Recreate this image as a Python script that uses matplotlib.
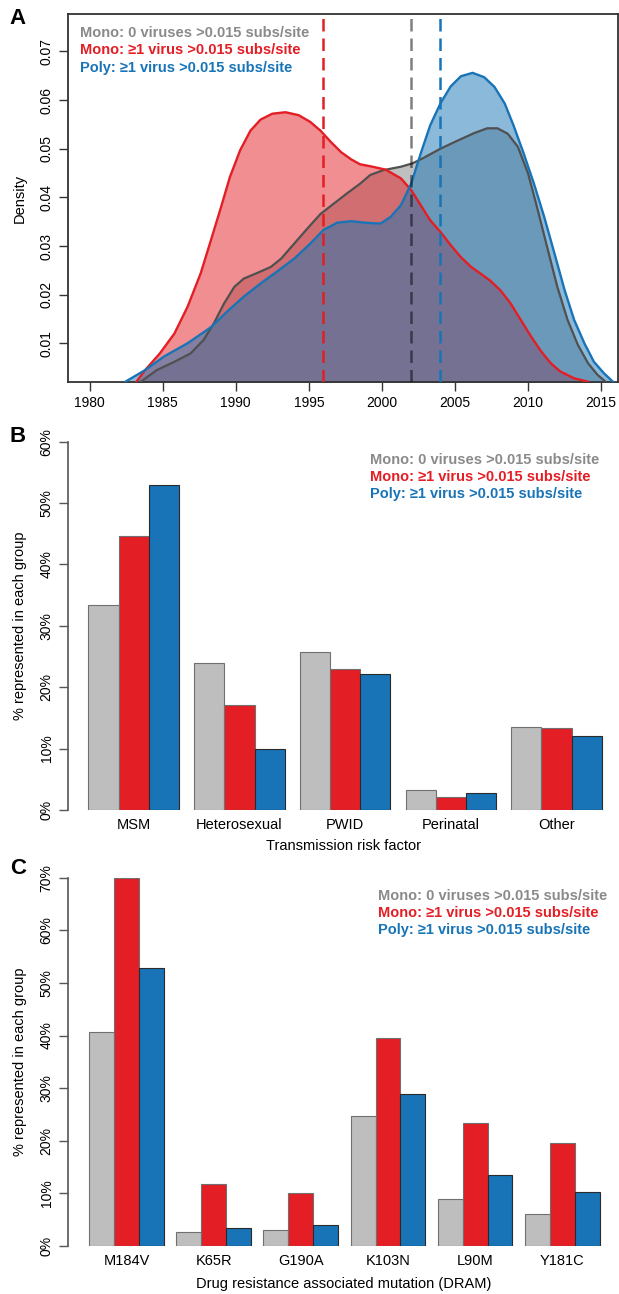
import numpy as np
import matplotlib
matplotlib.use('Agg')
import matplotlib.pyplot as plt

plt.rcParams['font.family'] = ['Liberation Sans', 'DejaVu Sans']

# ---- panel A: density of estimated infection dates ----
grey_year = [1983.5, 1984.6, 1985.8, 1986.9, 1987.8, 1988.5, 1989.2, 1989.9, 1990.55, 1991.5,
             1992.4, 1993.1, 1994.0, 1994.9, 1995.8, 1996.7, 1997.6, 1998.5, 1999.2, 2000.1,
             2001.3, 2002.1, 2002.9, 2004.0, 2005.2, 2006.3, 2007.2, 2007.9, 2008.6, 2009.3,
             2010.0, 2010.6, 2011.3, 2012.0, 2012.7, 2013.4, 2014.1, 2014.75, 2015.3]
grey_dens = [0.0021, 0.0045, 0.0062, 0.0079, 0.0107, 0.0141, 0.0182, 0.0216, 0.0233, 0.0245,
             0.0257, 0.0274, 0.0305, 0.0336, 0.0366, 0.0387, 0.0408, 0.0428, 0.0446, 0.0456,
             0.0463, 0.0470, 0.0482, 0.0500, 0.0517, 0.0532, 0.0542, 0.0542, 0.0531, 0.0504,
             0.0449, 0.0381, 0.0298, 0.0216, 0.0148, 0.0097, 0.0059, 0.0035, 0.0021]

red_year = [1983.2, 1983.8, 1984.8, 1985.8, 1986.7, 1987.6, 1988.3, 1989.0, 1989.6, 1990.3,
            1991.0, 1991.7, 1992.5, 1993.4, 1994.3, 1995.1, 1995.8, 1996.5, 1997.2, 1997.9,
            1998.5, 1999.2, 2000.25, 2001.3, 2002.0, 2002.65, 2003.3, 2004.0, 2004.7, 2005.4,
            2006.1, 2006.8, 2007.4, 2008.1, 2008.8, 2009.5, 2010.2, 2010.9, 2011.55, 2012.2,
            2013.15, 2014.1]
red_dens = [0.0021, 0.0045, 0.0079, 0.0120, 0.0175, 0.0244, 0.0312, 0.0381, 0.0442, 0.0497,
            0.0537, 0.0560, 0.0572, 0.0575, 0.0569, 0.0555, 0.0537, 0.0514, 0.0493, 0.0478,
            0.0468, 0.0464, 0.0457, 0.0439, 0.0415, 0.0384, 0.0353, 0.0329, 0.0302, 0.0277,
            0.0257, 0.0242, 0.0229, 0.0209, 0.0182, 0.0148, 0.0114, 0.0083, 0.0059, 0.0042,
            0.0028, 0.0021]

blue_year = [1982.45, 1983.8, 1985.1, 1986.7, 1988.3, 1989.4, 1990.55, 1991.7, 1992.8, 1994.0,
             1995.1, 1996.0, 1996.95, 1997.9, 1998.8, 1999.9, 2000.6, 2001.3, 2002.0, 2002.65,
             2003.3, 2004.0, 2004.7, 2005.4, 2006.2, 2007.0, 2007.7, 2008.4, 2009.0, 2009.7,
             2010.4, 2011.1, 2011.8, 2012.5, 2013.15, 2013.85, 2014.5, 2015.2, 2015.8]
blue_dens = [0.0021, 0.0045, 0.0073, 0.0100, 0.0133, 0.0165, 0.0196, 0.0223, 0.0247, 0.0274,
             0.0305, 0.0333, 0.0348, 0.0351, 0.0348, 0.0346, 0.0360, 0.0384, 0.0428, 0.0490,
             0.0548, 0.0593, 0.0628, 0.0649, 0.0656, 0.0647, 0.0627, 0.0593, 0.0548, 0.0490,
             0.0428, 0.0360, 0.0285, 0.0209, 0.0148, 0.0100, 0.0062, 0.0038, 0.0021]

medians = [2002, 1996, 2004]   # grey, red, blue

# ---- panel B: transmission risk factor ----
risk_cats = ['MSM', 'Heterosexual', 'PWID', 'Perinatal', 'Other']
risk_grey = [33.4, 23.9, 25.8, 3.3, 13.5]
risk_red = [44.6, 17.1, 22.9, 2.1, 13.3]
risk_blue = [52.9, 10.0, 22.1, 2.7, 12.1]

# ---- panel C: drug resistance mutations ----
dram_cats = ['M184V', 'K65R', 'G190A', 'K103N', 'L90M', 'Y181C']
dram_grey = [40.6, 2.7, 3.0, 24.8, 9.0, 6.1]
dram_red = [70.0, 11.7, 10.1, 39.6, 23.3, 19.6]
dram_blue = [52.9, 3.5, 4.0, 28.9, 13.4, 10.2]

legend_labels = ['Mono: 0 viruses >0.015 subs/site',
                 'Mono: \u22651 virus >0.015 subs/site',
                 'Poly: \u22651 virus >0.015 subs/site']

GREY = '#808080'
RED = '#E31E25'
BLUE = '#1874B6'
BAR_GREY = '#BEBEBE'
legend_cols = ['#8A8A8A', RED, BLUE]

W, H = 619, 1294
fig = plt.figure(figsize=(W / 100, H / 100), dpi=100)


def rect(l, t, r, b):
    return [l / W, 1 - b / H, (r - l) / W, (b - t) / H]


def ftext(x, y, s, **kw):
    fig.text(x / W, 1 - y / H, s, **kw)


# ================= A =================
ax = fig.add_axes(rect(68.3, 14, 618, 381.7))
for yr, d, c in [(grey_year, grey_dens, GREY), (red_year, red_dens, RED),
                 (blue_year, blue_dens, BLUE)]:
    ax.fill_between(yr, 0, d, color=c, alpha=0.5, lw=0, zorder=2)
ax.plot(grey_year, grey_dens, color='#505050', lw=1.6, zorder=4)
ax.plot(red_year, red_dens, color=RED, lw=1.7, zorder=4)
ax.plot(blue_year, blue_dens, color=BLUE, lw=1.7, zorder=4)
ax.axvline(medians[0], color='black', alpha=0.5, lw=1.8, dashes=(5, 2.8), zorder=5)
ax.axvline(medians[1], color=RED, lw=1.8, dashes=(5, 2.8), zorder=5)
ax.axvline(medians[2], color=BLUE, lw=1.8, dashes=(5, 2.8), zorder=5)
ax.set_xlim(1978.54, 2016.15)
ax.set_ylim(0.0021, 0.0777)
ax.set_xticks(np.arange(1980, 2016, 5))
ax.set_yticks([0.01, 0.02, 0.03, 0.04, 0.05, 0.06, 0.07])
ax.set_yticklabels(['0.01', '0.02', '0.03', '0.04', '0.05', '0.06', '0.07'],
                   rotation=90, va='center')
ax.tick_params(length=6.5, width=1, color='#333333', labelsize=10, pad=4)
for s in ax.spines.values():
    s.set_color('#333333')
    s.set_linewidth(1.3)
ftext(20, 198, 'Density', rotation=90, ha='center', va='center', fontsize=10.5)
for i, (lab, c) in enumerate(zip(legend_labels, legend_cols)):
    ftext(80, 33 + 17.5 * i, lab, color=c, fontsize=10.5, fontweight='bold',
          ha='left', va='center')
ftext(17, 19, 'A', fontsize=16, fontweight='bold', ha='center', va='center')


def bar_panel(r, cats, g, rr, b, ymax, xlim, label, xlab_y, leg_x, leg_y):
    ax = fig.add_axes(rect(*r))
    n = len(cats)
    base = np.arange(n) * 3.5
    ax.bar(base, g, width=1, align='edge', color=BAR_GREY, edgecolor='#707070', lw=0.8)
    ax.bar(base + 1, rr, width=1, align='edge', color=RED, edgecolor='#707070', lw=0.8)
    ax.bar(base + 2, b, width=1, align='edge', color=BLUE, edgecolor='#2a2a2a', lw=0.8)
    ax.set_xlim(*xlim)
    ax.set_ylim(0, ymax)
    ax.set_xticks(base + 1.5)
    ax.set_xticklabels(cats, fontsize=10.5)
    ax.tick_params(axis='x', length=0, pad=6)
    ticks = np.arange(0, ymax + 1, 10)
    ax.set_yticks(ticks)
    ax.set_yticklabels(['%d%%' % t for t in ticks], rotation=90, va='center')
    ax.tick_params(axis='y', length=6.5, width=1, color='#555555', labelsize=10, pad=4)
    for k in ['top', 'right', 'bottom']:
        ax.spines[k].set_visible(False)
    ax.spines['left'].set_color('#555555')
    ax.spines['left'].set_linewidth(1.2)
    ftext(20, (r[1] + r[3]) / 2, '% represented in each group', rotation=90,
          ha='center', va='center', fontsize=10.5)
    ftext(344, xlab_y, label, ha='center', va='center', fontsize=10.5)
    for i, (lab, c) in enumerate(zip(legend_labels, legend_cols)):
        ftext(leg_x, leg_y + 17 * i, lab, color=c, fontsize=10.5, fontweight='bold',
              ha='left', va='center')
    return ax


bar_panel((68.3, 441.7, 619, 810), risk_cats, risk_grey, risk_red, risk_blue, 60,
          (-0.669, 17.57), 'Transmission risk factor', 846, 370, 460)
ftext(18, 436, 'B', fontsize=16, fontweight='bold', ha='center', va='center')

bar_panel((68.3, 877.7, 619, 1246), dram_cats, dram_grey, dram_red, dram_blue, 70,
          (-0.84, 21.28), 'Drug resistance associated mutation (DRAM)', 1284, 378, 896)
ftext(18, 869, 'C', fontsize=16, fontweight='bold', ha='center', va='center')

fig.savefig('out.png', dpi=100)
